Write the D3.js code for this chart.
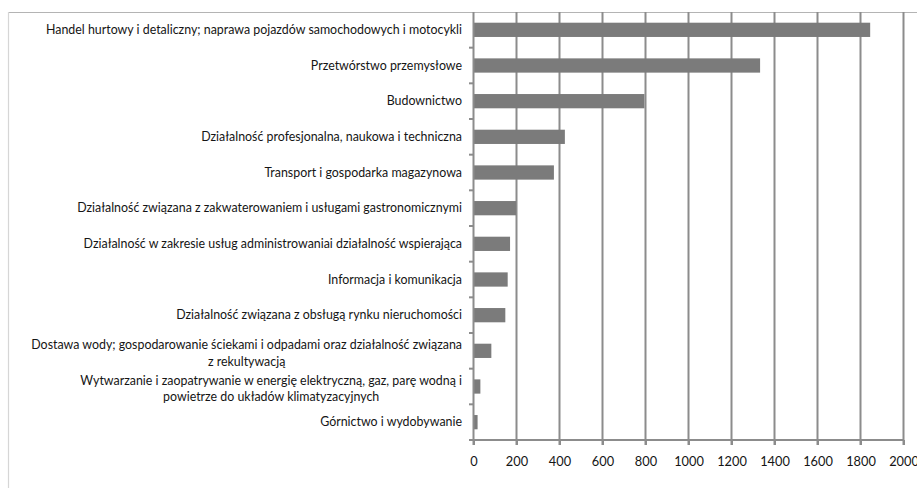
<!DOCTYPE html>
<html>
<head>
<meta charset="utf-8">
<script src="https://cdn.jsdelivr.net/npm/d3@7"></script>
<style>
  html, body { margin: 0; padding: 0; background: #fff; }
  svg { display: block; }
  text { font-family: Lato, "Open Sans", sans-serif; fill: #151515; }
</style>
</head>
<body>
<svg id="chart" width="917" height="488"></svg>
<script>
// Sekcje PKD (each entry is a list of label lines) and their values
const categories = [
  ["Handel hurtowy i detaliczny; naprawa pojazdów samochodowych i motocykli"],
  ["Przetwórstwo przemysłowe"],
  ["Budownictwo"],
  ["Działalność profesjonalna, naukowa i techniczna"],
  ["Transport i gospodarka magazynowa"],
  ["Działalność związana z zakwaterowaniem i usługami gastronomicznymi"],
  ["Działalność w zakresie usług administrowaniai działalność wspierająca"],
  ["Informacja i komunikacja"],
  ["Działalność związana z obsługą rynku nieruchomości"],
  ["Dostawa wody; gospodarowanie ściekami i odpadami oraz działalność związana", "z rekultywacją"],
  ["Wytwarzanie i zaopatrywanie w energię elektryczną, gaz, parę wodną i", "powietrze do układów klimatyzacyjnych"],
  ["Górnictwo i wydobywanie"]
];
const values = [1845, 1333, 795, 425, 374, 198, 170, 159, 148, 83, 32, 19];
const xTicks = [0, 200, 400, 600, 800, 1000, 1200, 1400, 1600, 1800, 2000];

const svg = d3.select("#chart");
const W = 917, H = 488;
const plot = { left: 473.5, right: 903.5, top: 12, bottom: 440 };

// outer frame lines
svg.append("line").attr("x1", 8).attr("x2", W).attr("y1", 12.5).attr("y2", 12.5)
  .attr("stroke", "#b4b4b4").attr("stroke-width", 1.2);
svg.append("line").attr("x1", 8.5).attr("x2", 8.5).attr("y1", 12).attr("y2", H)
  .attr("stroke", "#d6d6d6").attr("stroke-width", 1.2);

const x = d3.scaleLinear().domain([0, 2000]).range([plot.left, plot.right]);
const y = d3.scaleBand().domain(d3.range(categories.length))
  .range([plot.top, plot.bottom]).paddingInner(0.6).paddingOuter(0.3);
const yEdges = d3.scaleLinear().domain([0, categories.length]).range([plot.top, plot.bottom]);

const gridColor = "#8c8c8c";

// vertical gridlines
svg.append("g").selectAll("line").data(xTicks.slice(1)).join("line")
  .attr("x1", d => x(d)).attr("x2", d => x(d))
  .attr("y1", plot.top).attr("y2", plot.bottom + 5)
  .attr("stroke", gridColor).attr("stroke-width", 2);

// bars
svg.append("g").selectAll("rect").data(values).join("rect")
  .attr("x", x(0))
  .attr("y", (d, i) => y(i))
  .attr("width", d => x(d) - x(0))
  .attr("height", y.bandwidth())
  .attr("fill", "#7b7b7b");

// bottom axis
const xAxis = svg.append("g").attr("transform", `translate(0,${plot.bottom})`)
  .call(d3.axisBottom(x).tickValues(xTicks).tickSize(5).tickPadding(12).tickFormat(d3.format("d")));
xAxis.select(".domain").attr("stroke", gridColor).attr("stroke-width", 2)
  .attr("d", `M${plot.left},0H${plot.right}`);
xAxis.selectAll(".tick line").attr("stroke", gridColor).attr("stroke-width", 2);
xAxis.selectAll(".tick text").attr("font-size", 12.8).attr("fill", "#151515")
  .style("font-family", "Lato, sans-serif");

// left axis line with category separator ticks
svg.append("line").attr("x1", plot.left).attr("x2", plot.left)
  .attr("y1", plot.top).attr("y2", plot.bottom + 5)
  .attr("stroke", gridColor).attr("stroke-width", 2);
svg.append("g").selectAll("line").data(d3.range(1, categories.length + 1)).join("line")
  .attr("x1", plot.left - 4.5).attr("x2", plot.left)
  .attr("y1", d => yEdges(d)).attr("y2", d => yEdges(d))
  .attr("stroke", gridColor).attr("stroke-width", 2);

// category labels, right-aligned; wrapped lines centred on the widest line
const labelRight = 462;
const lineH = 16.5;
const fs = 12.4;
const labels = svg.append("g");
categories.forEach((lines, i) => {
  const cy = y(i) + y.bandwidth() / 2;
  const n = lines.length;
  const g = labels.append("g");
  const texts = lines.map((s, j) => g.append("text")
    .attr("font-size", fs)
    .attr("y", cy + 4 + (j - (n - 1) / 2) * lineH + (n > 1 ? 2.7 : 0))
    .text(s));
  if (n === 1) {
    texts[0].attr("x", labelRight).attr("text-anchor", "end");
  } else {
    const maxW = d3.max(texts, t => t.node().getComputedTextLength());
    texts.forEach(t => t.attr("x", labelRight - maxW / 2).attr("text-anchor", "middle"));
  }
});
</script>
</body>
</html>
